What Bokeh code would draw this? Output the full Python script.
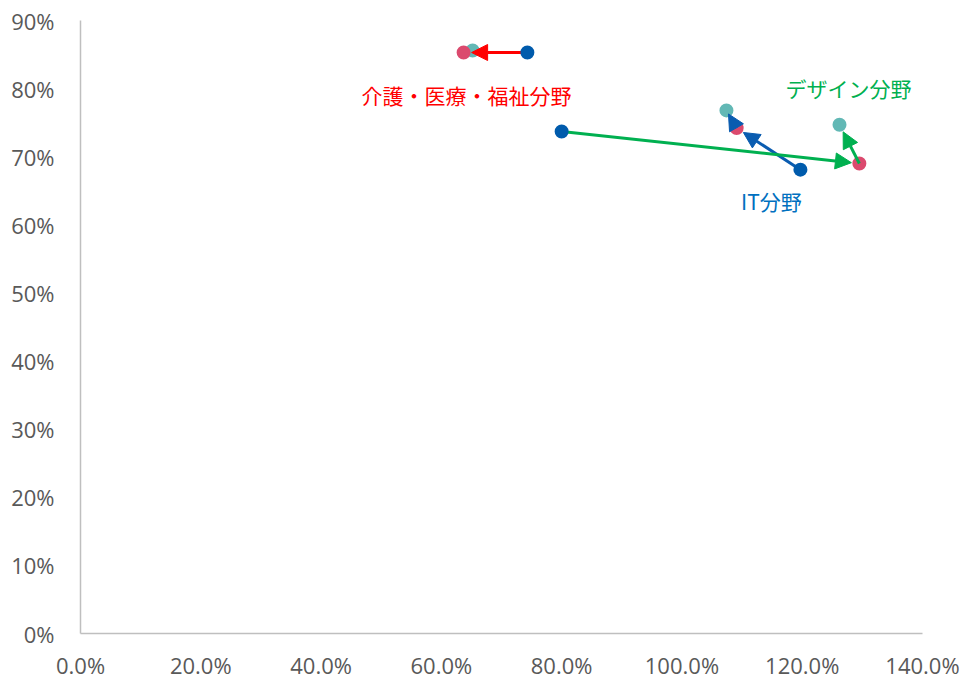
import math
from bokeh.plotting import figure
from bokeh.models import Arrow, NormalHead, NumeralTickFormatter, Range1d, FixedTicker
from bokeh.core.properties import value
from bokeh.embed import file_html
from bokeh.resources import INLINE

# ---- data ----
categories = ["介護・医療・福祉分野", "IT分野", "デザイン分野"]
# first point (blue), second point (red), third point (teal)
x_first = [0.743, 1.197, 0.800]
y_first = [0.853, 0.681, 0.737]
x_second = [0.637, 1.091, 1.295]
y_second = [0.853, 0.742, 0.690]
x_third = [0.652, 1.074, 1.262]
y_third = [0.856, 0.768, 0.747]
x_ticks = [0.0, 0.2, 0.4, 0.6, 0.8, 1.0, 1.2, 1.4]
y_ticks = [0.0, 0.1, 0.2, 0.3, 0.4, 0.5, 0.6, 0.7, 0.8, 0.9]

cat_colors = ["#FF0000", "#0A5CB0", "#00B050"]
label_colors = ["#FF0000", "#0070C0", "#00B050"]
# which arrows to draw per category: (from, to) stage indexes
arrow_steps = [[(0, 1)], [(0, 1), (1, 2)], [(0, 1), (1, 2)]]

FW, FH = 842, 613
XMAX, YMAX = 1.4, 0.9

p = figure(frame_width=FW, frame_height=FH, output_backend="svg", toolbar_location=None,
           x_range=Range1d(0, XMAX), y_range=Range1d(0, YMAX),
           min_border_left=80, min_border_right=46, min_border_top=20, min_border_bottom=40)
p.outline_line_color = None
p.xgrid.visible = False
p.ygrid.visible = False
p.background_fill_color = "white"

for ax in (p.xaxis[0], p.yaxis[0]):
    ax.axis_line_color = "#BFBFBF"
    ax.axis_line_width = 1.5
    ax.major_tick_line_color = None
    ax.minor_tick_line_color = None
    ax.major_label_text_color = "#595959"
    ax.major_label_text_font = "Open Sans"
    ax.major_label_text_font_size = "22px"

p.xaxis.ticker = FixedTicker(ticks=x_ticks)
p.yaxis.ticker = FixedTicker(ticks=y_ticks)
p.xaxis.formatter = NumeralTickFormatter(format="0.0%")
p.yaxis.formatter = NumeralTickFormatter(format="0%")
p.xaxis.major_label_standoff = 10
p.yaxis.major_label_standoff = 20

# markers: teal, red (under arrows), blue (over arrows)
p.scatter(x_third, y_third, size=14, fill_color="#62B8B5", line_color=None)
p.scatter(x_second, y_second, size=14, fill_color="#DB4A6E", line_color=None)
p.scatter(x_first, y_first, size=14, fill_color="#005BAC", line_color=None, level="overlay")

sx = FW / XMAX
sy = FH / YMAX
pts = list(zip(zip(x_first, y_first), zip(x_second, y_second), zip(x_third, y_third)))
for i, steps in enumerate(arrow_steps):
    for a, b in steps:
        (x0, y0), (x1, y1) = pts[i][a], pts[i][b]
        dxp, dyp = (x1 - x0) * sx, (y1 - y0) * sy
        L = math.hypot(dxp, dyp)
        gap = min(8.0, 0.2 * L)
        f = (L - gap) / L
        xe = x0 + (x1 - x0) * f
        ye = y0 + (y1 - y0) * f
        p.add_layout(Arrow(x_start=x0, y_start=y0, x_end=xe, y_end=ye,
                           line_color=cat_colors[i], line_width=3,
                           end=NormalHead(size=16, fill_color=cat_colors[i],
                                          line_color=cat_colors[i], line_width=1)))

# labels, anchored to a point with pixel offsets
anchor_x = [x_second[0], x_first[1], x_third[2]]
anchor_y = [y_second[0], y_first[1], y_third[2]]
off_x = [3, -29, 9]
off_y = [42, 31, -37]
for i in range(3):
    p.text(x=[anchor_x[i]], y=[anchor_y[i]], text=[categories[i]],
           x_offset=off_x[i], y_offset=off_y[i],
           text_align="center", text_baseline="middle",
           text_font=value("Noto Sans CJK JP"), text_font_size="21px",
           text_color=label_colors[i])

open("out.html", "w").write(file_html(p, INLINE))
